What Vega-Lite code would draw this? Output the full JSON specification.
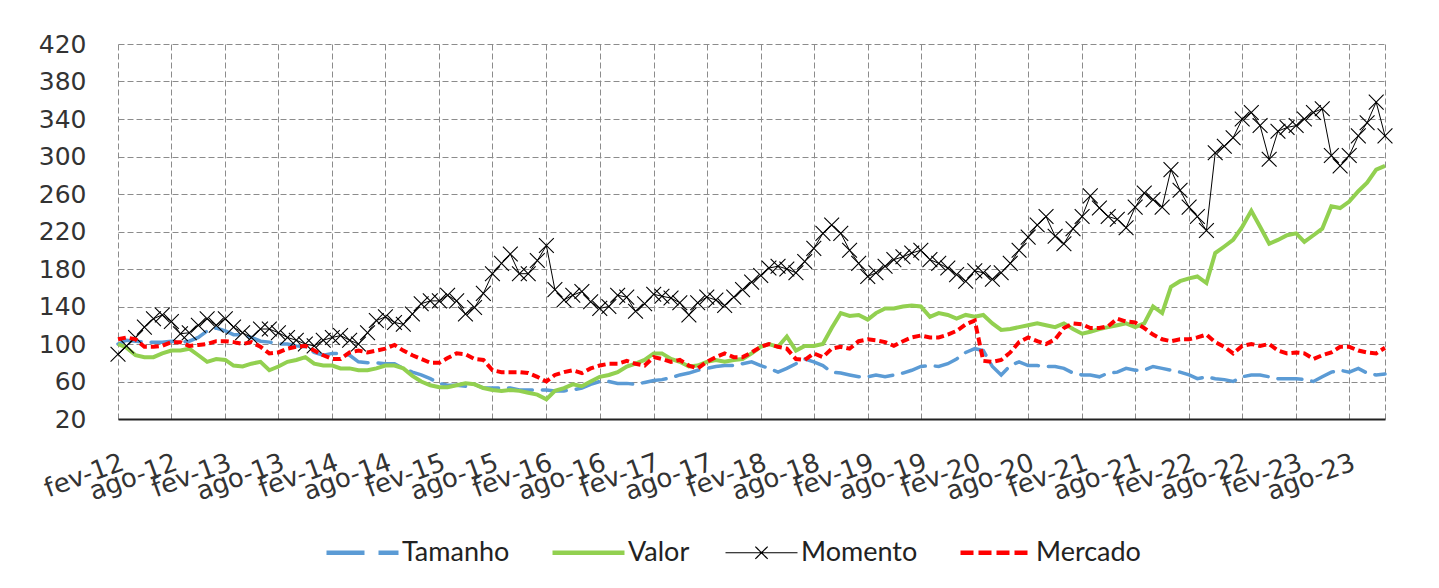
{
"$schema": "https://vega.github.io/schema/vega-lite/v6.json",
"width": 1267, "height": 375,
"autosize": {"type": "none"},
"padding": {"left": 118, "top": 44, "right": 54, "bottom": 169},
"background": "white",
"config": {"view": {"stroke": null}, "font": "DejaVu Sans"},
"data": {"values": [
{"d":"2012-02","s":"Tamanho","v":100},{"d":"2012-03","s":"Tamanho","v":104},{"d":"2012-04","s":"Tamanho","v":103},{"d":"2012-05","s":"Tamanho","v":102},{"d":"2012-06","s":"Tamanho","v":102},{"d":"2012-07","s":"Tamanho","v":102},{"d":"2012-08","s":"Tamanho","v":103},{"d":"2012-09","s":"Tamanho","v":102},{"d":"2012-10","s":"Tamanho","v":103},{"d":"2012-11","s":"Tamanho","v":107},{"d":"2012-12","s":"Tamanho","v":114},
{"d":"2013-01","s":"Tamanho","v":117},{"d":"2013-02","s":"Tamanho","v":114},{"d":"2013-03","s":"Tamanho","v":110},{"d":"2013-04","s":"Tamanho","v":110},{"d":"2013-05","s":"Tamanho","v":107},{"d":"2013-06","s":"Tamanho","v":103},{"d":"2013-07","s":"Tamanho","v":102},{"d":"2013-08","s":"Tamanho","v":100},{"d":"2013-09","s":"Tamanho","v":100},{"d":"2013-10","s":"Tamanho","v":98},{"d":"2013-11","s":"Tamanho","v":97},{"d":"2013-12","s":"Tamanho","v":91},
{"d":"2014-01","s":"Tamanho","v":88},{"d":"2014-02","s":"Tamanho","v":90},{"d":"2014-03","s":"Tamanho","v":90},{"d":"2014-04","s":"Tamanho","v":88},{"d":"2014-05","s":"Tamanho","v":81},{"d":"2014-06","s":"Tamanho","v":80},{"d":"2014-07","s":"Tamanho","v":80},{"d":"2014-08","s":"Tamanho","v":79},{"d":"2014-09","s":"Tamanho","v":79},{"d":"2014-10","s":"Tamanho","v":74},{"d":"2014-11","s":"Tamanho","v":70},{"d":"2014-12","s":"Tamanho","v":67},
{"d":"2015-01","s":"Tamanho","v":63},{"d":"2015-02","s":"Tamanho","v":58},{"d":"2015-03","s":"Tamanho","v":56},{"d":"2015-04","s":"Tamanho","v":56},{"d":"2015-05","s":"Tamanho","v":55},{"d":"2015-06","s":"Tamanho","v":57},{"d":"2015-07","s":"Tamanho","v":53},{"d":"2015-08","s":"Tamanho","v":53},{"d":"2015-09","s":"Tamanho","v":53},{"d":"2015-10","s":"Tamanho","v":53},{"d":"2015-11","s":"Tamanho","v":51},{"d":"2015-12","s":"Tamanho","v":51},
{"d":"2016-01","s":"Tamanho","v":51},{"d":"2016-02","s":"Tamanho","v":51},{"d":"2016-03","s":"Tamanho","v":50},{"d":"2016-04","s":"Tamanho","v":50},{"d":"2016-05","s":"Tamanho","v":51},{"d":"2016-06","s":"Tamanho","v":53},{"d":"2016-07","s":"Tamanho","v":57},{"d":"2016-08","s":"Tamanho","v":60},{"d":"2016-09","s":"Tamanho","v":60},{"d":"2016-10","s":"Tamanho","v":58},{"d":"2016-11","s":"Tamanho","v":58},{"d":"2016-12","s":"Tamanho","v":57},
{"d":"2017-01","s":"Tamanho","v":59},{"d":"2017-02","s":"Tamanho","v":61},{"d":"2017-03","s":"Tamanho","v":62},{"d":"2017-04","s":"Tamanho","v":64},{"d":"2017-05","s":"Tamanho","v":67},{"d":"2017-06","s":"Tamanho","v":69},{"d":"2017-07","s":"Tamanho","v":72},{"d":"2017-08","s":"Tamanho","v":74},{"d":"2017-09","s":"Tamanho","v":76},{"d":"2017-10","s":"Tamanho","v":77},{"d":"2017-11","s":"Tamanho","v":77},{"d":"2017-12","s":"Tamanho","v":79},
{"d":"2018-01","s":"Tamanho","v":81},{"d":"2018-02","s":"Tamanho","v":77},{"d":"2018-03","s":"Tamanho","v":74},{"d":"2018-04","s":"Tamanho","v":70},{"d":"2018-05","s":"Tamanho","v":74},{"d":"2018-06","s":"Tamanho","v":79},{"d":"2018-07","s":"Tamanho","v":84},{"d":"2018-08","s":"Tamanho","v":81},{"d":"2018-09","s":"Tamanho","v":77},{"d":"2018-10","s":"Tamanho","v":70},{"d":"2018-11","s":"Tamanho","v":69},{"d":"2018-12","s":"Tamanho","v":67},
{"d":"2019-01","s":"Tamanho","v":65},{"d":"2019-02","s":"Tamanho","v":65},{"d":"2019-03","s":"Tamanho","v":67},{"d":"2019-04","s":"Tamanho","v":65},{"d":"2019-05","s":"Tamanho","v":67},{"d":"2019-06","s":"Tamanho","v":69},{"d":"2019-07","s":"Tamanho","v":72},{"d":"2019-08","s":"Tamanho","v":76},{"d":"2019-09","s":"Tamanho","v":77},{"d":"2019-10","s":"Tamanho","v":76},{"d":"2019-11","s":"Tamanho","v":79},{"d":"2019-12","s":"Tamanho","v":84},
{"d":"2020-01","s":"Tamanho","v":91},{"d":"2020-02","s":"Tamanho","v":95},{"d":"2020-03","s":"Tamanho","v":93},{"d":"2020-04","s":"Tamanho","v":76},{"d":"2020-05","s":"Tamanho","v":67},{"d":"2020-06","s":"Tamanho","v":77},{"d":"2020-07","s":"Tamanho","v":81},{"d":"2020-08","s":"Tamanho","v":77},{"d":"2020-09","s":"Tamanho","v":77},{"d":"2020-10","s":"Tamanho","v":76},{"d":"2020-11","s":"Tamanho","v":76},{"d":"2020-12","s":"Tamanho","v":74},
{"d":"2021-01","s":"Tamanho","v":69},{"d":"2021-02","s":"Tamanho","v":67},{"d":"2021-03","s":"Tamanho","v":67},{"d":"2021-04","s":"Tamanho","v":65},{"d":"2021-05","s":"Tamanho","v":69},{"d":"2021-06","s":"Tamanho","v":70},{"d":"2021-07","s":"Tamanho","v":74},{"d":"2021-08","s":"Tamanho","v":72},{"d":"2021-09","s":"Tamanho","v":72},{"d":"2021-10","s":"Tamanho","v":76},{"d":"2021-11","s":"Tamanho","v":74},{"d":"2021-12","s":"Tamanho","v":72},
{"d":"2022-01","s":"Tamanho","v":70},{"d":"2022-02","s":"Tamanho","v":67},{"d":"2022-03","s":"Tamanho","v":63},{"d":"2022-04","s":"Tamanho","v":65},{"d":"2022-05","s":"Tamanho","v":63},{"d":"2022-06","s":"Tamanho","v":62},{"d":"2022-07","s":"Tamanho","v":60},{"d":"2022-08","s":"Tamanho","v":65},{"d":"2022-09","s":"Tamanho","v":67},{"d":"2022-10","s":"Tamanho","v":67},{"d":"2022-11","s":"Tamanho","v":65},{"d":"2022-12","s":"Tamanho","v":63},
{"d":"2023-01","s":"Tamanho","v":63},{"d":"2023-02","s":"Tamanho","v":63},{"d":"2023-03","s":"Tamanho","v":62},{"d":"2023-04","s":"Tamanho","v":60},{"d":"2023-05","s":"Tamanho","v":65},{"d":"2023-06","s":"Tamanho","v":70},{"d":"2023-07","s":"Tamanho","v":72},{"d":"2023-08","s":"Tamanho","v":70},{"d":"2023-09","s":"Tamanho","v":74},{"d":"2023-10","s":"Tamanho","v":69},{"d":"2023-11","s":"Tamanho","v":67},{"d":"2023-12","s":"Tamanho","v":68},

{"d":"2012-02","s":"Valor","v":100},{"d":"2012-03","s":"Valor","v":96},{"d":"2012-04","s":"Valor","v":88},{"d":"2012-05","s":"Valor","v":86},{"d":"2012-06","s":"Valor","v":86},{"d":"2012-07","s":"Valor","v":90},{"d":"2012-08","s":"Valor","v":93},{"d":"2012-09","s":"Valor","v":93},{"d":"2012-10","s":"Valor","v":95},{"d":"2012-11","s":"Valor","v":88},{"d":"2012-12","s":"Valor","v":81},
{"d":"2013-01","s":"Valor","v":84},{"d":"2013-02","s":"Valor","v":83},{"d":"2013-03","s":"Valor","v":77},{"d":"2013-04","s":"Valor","v":76},{"d":"2013-05","s":"Valor","v":79},{"d":"2013-06","s":"Valor","v":81},{"d":"2013-07","s":"Valor","v":72},{"d":"2013-08","s":"Valor","v":76},{"d":"2013-09","s":"Valor","v":81},{"d":"2013-10","s":"Valor","v":83},{"d":"2013-11","s":"Valor","v":86},{"d":"2013-12","s":"Valor","v":79},
{"d":"2014-01","s":"Valor","v":77},{"d":"2014-02","s":"Valor","v":77},{"d":"2014-03","s":"Valor","v":74},{"d":"2014-04","s":"Valor","v":74},{"d":"2014-05","s":"Valor","v":72},{"d":"2014-06","s":"Valor","v":72},{"d":"2014-07","s":"Valor","v":74},{"d":"2014-08","s":"Valor","v":77},{"d":"2014-09","s":"Valor","v":77},{"d":"2014-10","s":"Valor","v":74},{"d":"2014-11","s":"Valor","v":66},{"d":"2014-12","s":"Valor","v":60},
{"d":"2015-01","s":"Valor","v":56},{"d":"2015-02","s":"Valor","v":54},{"d":"2015-03","s":"Valor","v":54},{"d":"2015-04","s":"Valor","v":56},{"d":"2015-05","s":"Valor","v":58},{"d":"2015-06","s":"Valor","v":57},{"d":"2015-07","s":"Valor","v":53},{"d":"2015-08","s":"Valor","v":51},{"d":"2015-09","s":"Valor","v":50},{"d":"2015-10","s":"Valor","v":51},{"d":"2015-11","s":"Valor","v":50},{"d":"2015-12","s":"Valor","v":48},
{"d":"2016-01","s":"Valor","v":46},{"d":"2016-02","s":"Valor","v":41},{"d":"2016-03","s":"Valor","v":50},{"d":"2016-04","s":"Valor","v":53},{"d":"2016-05","s":"Valor","v":57},{"d":"2016-06","s":"Valor","v":55},{"d":"2016-07","s":"Valor","v":60},{"d":"2016-08","s":"Valor","v":65},{"d":"2016-09","s":"Valor","v":67},{"d":"2016-10","s":"Valor","v":70},{"d":"2016-11","s":"Valor","v":76},{"d":"2016-12","s":"Valor","v":79},
{"d":"2017-01","s":"Valor","v":83},{"d":"2017-02","s":"Valor","v":90},{"d":"2017-03","s":"Valor","v":90},{"d":"2017-04","s":"Valor","v":84},{"d":"2017-05","s":"Valor","v":81},{"d":"2017-06","s":"Valor","v":76},{"d":"2017-07","s":"Valor","v":77},{"d":"2017-08","s":"Valor","v":81},{"d":"2017-09","s":"Valor","v":83},{"d":"2017-10","s":"Valor","v":81},{"d":"2017-11","s":"Valor","v":83},{"d":"2017-12","s":"Valor","v":84},
{"d":"2018-01","s":"Valor","v":90},{"d":"2018-02","s":"Valor","v":97},{"d":"2018-03","s":"Valor","v":100},{"d":"2018-04","s":"Valor","v":97},{"d":"2018-05","s":"Valor","v":108},{"d":"2018-06","s":"Valor","v":93},{"d":"2018-07","s":"Valor","v":98},{"d":"2018-08","s":"Valor","v":98},{"d":"2018-09","s":"Valor","v":100},{"d":"2018-10","s":"Valor","v":117},{"d":"2018-11","s":"Valor","v":133},{"d":"2018-12","s":"Valor","v":130},
{"d":"2019-01","s":"Valor","v":131},{"d":"2019-02","s":"Valor","v":126},{"d":"2019-03","s":"Valor","v":133},{"d":"2019-04","s":"Valor","v":138},{"d":"2019-05","s":"Valor","v":138},{"d":"2019-06","s":"Valor","v":140},{"d":"2019-07","s":"Valor","v":141},{"d":"2019-08","s":"Valor","v":140},{"d":"2019-09","s":"Valor","v":129},{"d":"2019-10","s":"Valor","v":133},{"d":"2019-11","s":"Valor","v":131},{"d":"2019-12","s":"Valor","v":127},
{"d":"2020-01","s":"Valor","v":131},{"d":"2020-02","s":"Valor","v":129},{"d":"2020-03","s":"Valor","v":131},{"d":"2020-04","s":"Valor","v":122},{"d":"2020-05","s":"Valor","v":115},{"d":"2020-06","s":"Valor","v":116},{"d":"2020-07","s":"Valor","v":118},{"d":"2020-08","s":"Valor","v":120},{"d":"2020-09","s":"Valor","v":122},{"d":"2020-10","s":"Valor","v":120},{"d":"2020-11","s":"Valor","v":118},{"d":"2020-12","s":"Valor","v":122},
{"d":"2021-01","s":"Valor","v":116},{"d":"2021-02","s":"Valor","v":111},{"d":"2021-03","s":"Valor","v":113},{"d":"2021-04","s":"Valor","v":116},{"d":"2021-05","s":"Valor","v":118},{"d":"2021-06","s":"Valor","v":120},{"d":"2021-07","s":"Valor","v":122},{"d":"2021-08","s":"Valor","v":118},{"d":"2021-09","s":"Valor","v":122},{"d":"2021-10","s":"Valor","v":140},{"d":"2021-11","s":"Valor","v":133},{"d":"2021-12","s":"Valor","v":161},
{"d":"2022-01","s":"Valor","v":167},{"d":"2022-02","s":"Valor","v":170},{"d":"2022-03","s":"Valor","v":172},{"d":"2022-04","s":"Valor","v":165},{"d":"2022-05","s":"Valor","v":197},{"d":"2022-06","s":"Valor","v":204},{"d":"2022-07","s":"Valor","v":211},{"d":"2022-08","s":"Valor","v":225},{"d":"2022-09","s":"Valor","v":242},{"d":"2022-10","s":"Valor","v":225},{"d":"2022-11","s":"Valor","v":207},{"d":"2022-12","s":"Valor","v":211},
{"d":"2023-01","s":"Valor","v":216},{"d":"2023-02","s":"Valor","v":218},{"d":"2023-03","s":"Valor","v":209},{"d":"2023-04","s":"Valor","v":216},{"d":"2023-05","s":"Valor","v":223},{"d":"2023-06","s":"Valor","v":247},{"d":"2023-07","s":"Valor","v":245},{"d":"2023-08","s":"Valor","v":252},{"d":"2023-09","s":"Valor","v":263},{"d":"2023-10","s":"Valor","v":272},{"d":"2023-11","s":"Valor","v":286},{"d":"2023-12","s":"Valor","v":290},

{"d":"2012-02","s":"Momento","v":89},{"d":"2012-03","s":"Momento","v":98},{"d":"2012-04","s":"Momento","v":107},{"d":"2012-05","s":"Momento","v":118},{"d":"2012-06","s":"Momento","v":127},{"d":"2012-07","s":"Momento","v":131},{"d":"2012-08","s":"Momento","v":124},{"d":"2012-09","s":"Momento","v":111},{"d":"2012-10","s":"Momento","v":112},{"d":"2012-11","s":"Momento","v":120},{"d":"2012-12","s":"Momento","v":127},
{"d":"2013-01","s":"Momento","v":120},{"d":"2013-02","s":"Momento","v":127},{"d":"2013-03","s":"Momento","v":118},{"d":"2013-04","s":"Momento","v":112},{"d":"2013-05","s":"Momento","v":107},{"d":"2013-06","s":"Momento","v":116},{"d":"2013-07","s":"Momento","v":116},{"d":"2013-08","s":"Momento","v":112},{"d":"2013-09","s":"Momento","v":107},{"d":"2013-10","s":"Momento","v":104},{"d":"2013-11","s":"Momento","v":100},{"d":"2013-12","s":"Momento","v":98},
{"d":"2014-01","s":"Momento","v":104},{"d":"2014-02","s":"Momento","v":107},{"d":"2014-03","s":"Momento","v":109},{"d":"2014-04","s":"Momento","v":104},{"d":"2014-05","s":"Momento","v":100},{"d":"2014-06","s":"Momento","v":112},{"d":"2014-07","s":"Momento","v":125},{"d":"2014-08","s":"Momento","v":129},{"d":"2014-09","s":"Momento","v":123},{"d":"2014-10","s":"Momento","v":121},{"d":"2014-11","s":"Momento","v":132},{"d":"2014-12","s":"Momento","v":143},
{"d":"2015-01","s":"Momento","v":146},{"d":"2015-02","s":"Momento","v":146},{"d":"2015-03","s":"Momento","v":152},{"d":"2015-04","s":"Momento","v":146},{"d":"2015-05","s":"Momento","v":132},{"d":"2015-06","s":"Momento","v":139},{"d":"2015-07","s":"Momento","v":154},{"d":"2015-08","s":"Momento","v":175},{"d":"2015-09","s":"Momento","v":186},{"d":"2015-10","s":"Momento","v":196},{"d":"2015-11","s":"Momento","v":175},{"d":"2015-12","s":"Momento","v":175},
{"d":"2016-01","s":"Momento","v":189},{"d":"2016-02","s":"Momento","v":205},{"d":"2016-03","s":"Momento","v":158},{"d":"2016-04","s":"Momento","v":147},{"d":"2016-05","s":"Momento","v":152},{"d":"2016-06","s":"Momento","v":156},{"d":"2016-07","s":"Momento","v":145},{"d":"2016-08","s":"Momento","v":138},{"d":"2016-09","s":"Momento","v":140},{"d":"2016-10","s":"Momento","v":152},{"d":"2016-11","s":"Momento","v":150},{"d":"2016-12","s":"Momento","v":135},
{"d":"2017-01","s":"Momento","v":143},{"d":"2017-02","s":"Momento","v":153},{"d":"2017-03","s":"Momento","v":151},{"d":"2017-04","s":"Momento","v":149},{"d":"2017-05","s":"Momento","v":144},{"d":"2017-06","s":"Momento","v":131},{"d":"2017-07","s":"Momento","v":144},{"d":"2017-08","s":"Momento","v":150},{"d":"2017-09","s":"Momento","v":147},{"d":"2017-10","s":"Momento","v":141},{"d":"2017-11","s":"Momento","v":150},{"d":"2017-12","s":"Momento","v":158},
{"d":"2018-01","s":"Momento","v":166},{"d":"2018-02","s":"Momento","v":173},{"d":"2018-03","s":"Momento","v":181},{"d":"2018-04","s":"Momento","v":183},{"d":"2018-05","s":"Momento","v":180},{"d":"2018-06","s":"Momento","v":176},{"d":"2018-07","s":"Momento","v":188},{"d":"2018-08","s":"Momento","v":202},{"d":"2018-09","s":"Momento","v":218},{"d":"2018-10","s":"Momento","v":227},{"d":"2018-11","s":"Momento","v":218},{"d":"2018-12","s":"Momento","v":200},
{"d":"2019-01","s":"Momento","v":186},{"d":"2019-02","s":"Momento","v":172},{"d":"2019-03","s":"Momento","v":176},{"d":"2019-04","s":"Momento","v":183},{"d":"2019-05","s":"Momento","v":190},{"d":"2019-06","s":"Momento","v":193},{"d":"2019-07","s":"Momento","v":197},{"d":"2019-08","s":"Momento","v":200},{"d":"2019-09","s":"Momento","v":190},{"d":"2019-10","s":"Momento","v":186},{"d":"2019-11","s":"Momento","v":181},{"d":"2019-12","s":"Momento","v":174},
{"d":"2020-01","s":"Momento","v":167},{"d":"2020-02","s":"Momento","v":178},{"d":"2020-03","s":"Momento","v":176},{"d":"2020-04","s":"Momento","v":169},{"d":"2020-05","s":"Momento","v":176},{"d":"2020-06","s":"Momento","v":186},{"d":"2020-07","s":"Momento","v":200},{"d":"2020-08","s":"Momento","v":214},{"d":"2020-09","s":"Momento","v":227},{"d":"2020-10","s":"Momento","v":236},{"d":"2020-11","s":"Momento","v":215},{"d":"2020-12","s":"Momento","v":207},
{"d":"2021-01","s":"Momento","v":223},{"d":"2021-02","s":"Momento","v":236},{"d":"2021-03","s":"Momento","v":258},{"d":"2021-04","s":"Momento","v":245},{"d":"2021-05","s":"Momento","v":236},{"d":"2021-06","s":"Momento","v":233},{"d":"2021-07","s":"Momento","v":224},{"d":"2021-08","s":"Momento","v":246},{"d":"2021-09","s":"Momento","v":261},{"d":"2021-10","s":"Momento","v":254},{"d":"2021-11","s":"Momento","v":246},{"d":"2021-12","s":"Momento","v":286},
{"d":"2022-01","s":"Momento","v":264},{"d":"2022-02","s":"Momento","v":246},{"d":"2022-03","s":"Momento","v":236},{"d":"2022-04","s":"Momento","v":221},{"d":"2022-05","s":"Momento","v":304},{"d":"2022-06","s":"Momento","v":311},{"d":"2022-07","s":"Momento","v":320},{"d":"2022-08","s":"Momento","v":340},{"d":"2022-09","s":"Momento","v":347},{"d":"2022-10","s":"Momento","v":333},{"d":"2022-11","s":"Momento","v":297},{"d":"2022-12","s":"Momento","v":327},
{"d":"2023-01","s":"Momento","v":331},{"d":"2023-02","s":"Momento","v":333},{"d":"2023-03","s":"Momento","v":340},{"d":"2023-04","s":"Momento","v":347},{"d":"2023-05","s":"Momento","v":351},{"d":"2023-06","s":"Momento","v":301},{"d":"2023-07","s":"Momento","v":290},{"d":"2023-08","s":"Momento","v":301},{"d":"2023-09","s":"Momento","v":322},{"d":"2023-10","s":"Momento","v":336},{"d":"2023-11","s":"Momento","v":358},{"d":"2023-12","s":"Momento","v":322},

{"d":"2012-02","s":"Mercado","v":105},{"d":"2012-03","s":"Mercado","v":107},{"d":"2012-04","s":"Mercado","v":105},{"d":"2012-05","s":"Mercado","v":97},{"d":"2012-06","s":"Mercado","v":97},{"d":"2012-07","s":"Mercado","v":98},{"d":"2012-08","s":"Mercado","v":102},{"d":"2012-09","s":"Mercado","v":102},{"d":"2012-10","s":"Mercado","v":98},{"d":"2012-11","s":"Mercado","v":99},{"d":"2012-12","s":"Mercado","v":100},
{"d":"2013-01","s":"Mercado","v":103},{"d":"2013-02","s":"Mercado","v":103},{"d":"2013-03","s":"Mercado","v":102},{"d":"2013-04","s":"Mercado","v":100},{"d":"2013-05","s":"Mercado","v":102},{"d":"2013-06","s":"Mercado","v":97},{"d":"2013-07","s":"Mercado","v":90},{"d":"2013-08","s":"Mercado","v":91},{"d":"2013-09","s":"Mercado","v":95},{"d":"2013-10","s":"Mercado","v":97},{"d":"2013-11","s":"Mercado","v":98},{"d":"2013-12","s":"Mercado","v":93},
{"d":"2014-01","s":"Mercado","v":88},{"d":"2014-02","s":"Mercado","v":84},{"d":"2014-03","s":"Mercado","v":84},{"d":"2014-04","s":"Mercado","v":91},{"d":"2014-05","s":"Mercado","v":93},{"d":"2014-06","s":"Mercado","v":91},{"d":"2014-07","s":"Mercado","v":93},{"d":"2014-08","s":"Mercado","v":95},{"d":"2014-09","s":"Mercado","v":99},{"d":"2014-10","s":"Mercado","v":93},{"d":"2014-11","s":"Mercado","v":88},{"d":"2014-12","s":"Mercado","v":84},
{"d":"2015-01","s":"Mercado","v":80},{"d":"2015-02","s":"Mercado","v":80},{"d":"2015-03","s":"Mercado","v":85},{"d":"2015-04","s":"Mercado","v":90},{"d":"2015-05","s":"Mercado","v":89},{"d":"2015-06","s":"Mercado","v":84},{"d":"2015-07","s":"Mercado","v":83},{"d":"2015-08","s":"Mercado","v":72},{"d":"2015-09","s":"Mercado","v":70},{"d":"2015-10","s":"Mercado","v":70},{"d":"2015-11","s":"Mercado","v":70},{"d":"2015-12","s":"Mercado","v":69},
{"d":"2016-01","s":"Mercado","v":65},{"d":"2016-02","s":"Mercado","v":60},{"d":"2016-03","s":"Mercado","v":67},{"d":"2016-04","s":"Mercado","v":70},{"d":"2016-05","s":"Mercado","v":72},{"d":"2016-06","s":"Mercado","v":69},{"d":"2016-07","s":"Mercado","v":74},{"d":"2016-08","s":"Mercado","v":77},{"d":"2016-09","s":"Mercado","v":79},{"d":"2016-10","s":"Mercado","v":79},{"d":"2016-11","s":"Mercado","v":82},{"d":"2016-12","s":"Mercado","v":79},
{"d":"2017-01","s":"Mercado","v":77},{"d":"2017-02","s":"Mercado","v":86},{"d":"2017-03","s":"Mercado","v":84},{"d":"2017-04","s":"Mercado","v":81},{"d":"2017-05","s":"Mercado","v":83},{"d":"2017-06","s":"Mercado","v":77},{"d":"2017-07","s":"Mercado","v":74},{"d":"2017-08","s":"Mercado","v":81},{"d":"2017-09","s":"Mercado","v":86},{"d":"2017-10","s":"Mercado","v":90},{"d":"2017-11","s":"Mercado","v":86},{"d":"2017-12","s":"Mercado","v":86},
{"d":"2018-01","s":"Mercado","v":91},{"d":"2018-02","s":"Mercado","v":97},{"d":"2018-03","s":"Mercado","v":100},{"d":"2018-04","s":"Mercado","v":97},{"d":"2018-05","s":"Mercado","v":95},{"d":"2018-06","s":"Mercado","v":84},{"d":"2018-07","s":"Mercado","v":83},{"d":"2018-08","s":"Mercado","v":90},{"d":"2018-09","s":"Mercado","v":86},{"d":"2018-10","s":"Mercado","v":95},{"d":"2018-11","s":"Mercado","v":97},{"d":"2018-12","s":"Mercado","v":95},
{"d":"2019-01","s":"Mercado","v":103},{"d":"2019-02","s":"Mercado","v":105},{"d":"2019-03","s":"Mercado","v":104},{"d":"2019-04","s":"Mercado","v":102},{"d":"2019-05","s":"Mercado","v":98},{"d":"2019-06","s":"Mercado","v":103},{"d":"2019-07","s":"Mercado","v":107},{"d":"2019-08","s":"Mercado","v":109},{"d":"2019-09","s":"Mercado","v":107},{"d":"2019-10","s":"Mercado","v":107},{"d":"2019-11","s":"Mercado","v":110},{"d":"2019-12","s":"Mercado","v":114},
{"d":"2020-01","s":"Mercado","v":121},{"d":"2020-02","s":"Mercado","v":125},{"d":"2020-03","s":"Mercado","v":82},{"d":"2020-04","s":"Mercado","v":81},{"d":"2020-05","s":"Mercado","v":83},{"d":"2020-06","s":"Mercado","v":91},{"d":"2020-07","s":"Mercado","v":102},{"d":"2020-08","s":"Mercado","v":107},{"d":"2020-09","s":"Mercado","v":103},{"d":"2020-10","s":"Mercado","v":100},{"d":"2020-11","s":"Mercado","v":105},{"d":"2020-12","s":"Mercado","v":117},
{"d":"2021-01","s":"Mercado","v":122},{"d":"2021-02","s":"Mercado","v":121},{"d":"2021-03","s":"Mercado","v":117},{"d":"2021-04","s":"Mercado","v":117},{"d":"2021-05","s":"Mercado","v":119},{"d":"2021-06","s":"Mercado","v":127},{"d":"2021-07","s":"Mercado","v":124},{"d":"2021-08","s":"Mercado","v":123},{"d":"2021-09","s":"Mercado","v":117},{"d":"2021-10","s":"Mercado","v":110},{"d":"2021-11","s":"Mercado","v":105},{"d":"2021-12","s":"Mercado","v":103},
{"d":"2022-01","s":"Mercado","v":105},{"d":"2022-02","s":"Mercado","v":105},{"d":"2022-03","s":"Mercado","v":107},{"d":"2022-04","s":"Mercado","v":110},{"d":"2022-05","s":"Mercado","v":102},{"d":"2022-06","s":"Mercado","v":97},{"d":"2022-07","s":"Mercado","v":90},{"d":"2022-08","s":"Mercado","v":98},{"d":"2022-09","s":"Mercado","v":100},{"d":"2022-10","s":"Mercado","v":98},{"d":"2022-11","s":"Mercado","v":100},{"d":"2022-12","s":"Mercado","v":93},
{"d":"2023-01","s":"Mercado","v":90},{"d":"2023-02","s":"Mercado","v":91},{"d":"2023-03","s":"Mercado","v":90},{"d":"2023-04","s":"Mercado","v":84},{"d":"2023-05","s":"Mercado","v":88},{"d":"2023-06","s":"Mercado","v":91},{"d":"2023-07","s":"Mercado","v":97},{"d":"2023-08","s":"Mercado","v":97},{"d":"2023-09","s":"Mercado","v":93},{"d":"2023-10","s":"Mercado","v":91},{"d":"2023-11","s":"Mercado","v":90},{"d":"2023-12","s":"Mercado","v":96}
]},
"encoding": {
  "x": {"field": "d", "type": "temporal",
    "scale": {"type": "utc", "domain": [{"year": 2012, "month": 2, "date": 1, "utc": true}, {"year": 2023, "month": 12, "date": 1, "utc": true}]},
    "axis": {
      "values": [
        {"year":2012,"month":2,"date":1,"utc":true},{"year":2012,"month":8,"date":1,"utc":true},
        {"year":2013,"month":2,"date":1,"utc":true},{"year":2013,"month":8,"date":1,"utc":true},
        {"year":2014,"month":2,"date":1,"utc":true},{"year":2014,"month":8,"date":1,"utc":true},
        {"year":2015,"month":2,"date":1,"utc":true},{"year":2015,"month":8,"date":1,"utc":true},
        {"year":2016,"month":2,"date":1,"utc":true},{"year":2016,"month":8,"date":1,"utc":true},
        {"year":2017,"month":2,"date":1,"utc":true},{"year":2017,"month":8,"date":1,"utc":true},
        {"year":2018,"month":2,"date":1,"utc":true},{"year":2018,"month":8,"date":1,"utc":true},
        {"year":2019,"month":2,"date":1,"utc":true},{"year":2019,"month":8,"date":1,"utc":true},
        {"year":2020,"month":2,"date":1,"utc":true},{"year":2020,"month":8,"date":1,"utc":true},
        {"year":2021,"month":2,"date":1,"utc":true},{"year":2021,"month":8,"date":1,"utc":true},
        {"year":2022,"month":2,"date":1,"utc":true},{"year":2022,"month":8,"date":1,"utc":true},
        {"year":2023,"month":2,"date":1,"utc":true},{"year":2023,"month":8,"date":1,"utc":true},
        {"year":2023,"month":12,"date":1,"utc":true}
      ],
      "labelExpr": "utcmonth(datum.value) == 11 ? '' : ['jan','fev','mar','abr','mai','jun','jul','ago','set','out','nov','dez'][utcmonth(datum.value)] + '-' + utcFormat(datum.value, '%y')",
      "labelAngle": -20, "labelAlign": "right", "labelBaseline": "top",
      "labelFontSize": 26, "labelColor": "#333333", "labelPadding": 30,
      "labelOverlap": false, "labelBound": false, "labelFlush": false,
      "ticks": false, "domain": true, "domainColor": "#222222", "domainWidth": 2,
      "grid": true, "gridColor": "#8c8c8c", "gridDash": [6, 3], "gridWidth": 1,
      "title": null
    }
  },
  "y": {"field": "v", "type": "quantitative",
    "scale": {"domain": [20, 420], "nice": false, "zero": false},
    "axis": {"values": [20, 60, 100, 140, 180, 220, 260, 300, 340, 380, 420],
      "domain": false, "ticks": false, "labelFontSize": 25, "labelColor": "#333333", "labelPadding": 32,
      "grid": true, "gridColor": "#8c8c8c", "gridDash": [6, 3], "gridWidth": 1, "title": null}
  },
  "color": {"field": "s", "type": "nominal",
    "scale": {"domain": ["Tamanho", "Valor", "Momento", "Mercado"], "range": ["#5B9BD5", "#92D050", "#000000", "#FF0000"]},
    "legend": {"orient": "none", "legendX": 231, "legendY": 495, "direction": "horizontal", "title": null,
      "labelFontSize": 27, "labelFont": "Lato", "labelColor": "#222222",
      "symbolSize": 5184, "symbolType": "stroke", "symbolStrokeWidth": 4, "labelOffset": 26, "columnPadding": 33,
      "encode": {"symbols": {"update": {
        "shape": {"signal": "datum.value === 'Momento' ? 'M-1,0L1,0M-0.17,-0.17L0.17,0.17M-0.17,0.17L0.17,-0.17' : 'stroke'"},
        "strokeDash": {"signal": "datum.value === 'Tamanho' ? [38,14] : datum.value === 'Mercado' ? [13,5] : [1,0]"},
        "strokeWidth": {"signal": "datum.value === 'Momento' ? 1.2 : 4.5"},
        "fill": {"value": "transparent"},
        "opacity": {"value": 1}
      }}}
    }
  }
},
"layer": [
  {"transform": [{"filter": "datum.s === 'Tamanho'"}], "mark": {"type": "line", "strokeWidth": 3.5, "strokeDash": [24, 10], "strokeCap": "round"}},
  {"transform": [{"filter": "datum.s === 'Valor'"}], "mark": {"type": "line", "strokeWidth": 4}},
  {"transform": [{"filter": "datum.s === 'Momento'"}], "mark": {"type": "line", "strokeWidth": 1}},
  {"transform": [{"filter": "datum.s === 'Momento'"}], "mark": {"type": "point", "shape": "M-1,-1L1,1M-1,1L1,-1", "size": 220, "filled": false, "strokeWidth": 1.1, "opacity": 1}},
  {"transform": [{"filter": "datum.s === 'Mercado'"}], "mark": {"type": "line", "strokeWidth": 4, "strokeDash": [8, 4]}}
]
}
